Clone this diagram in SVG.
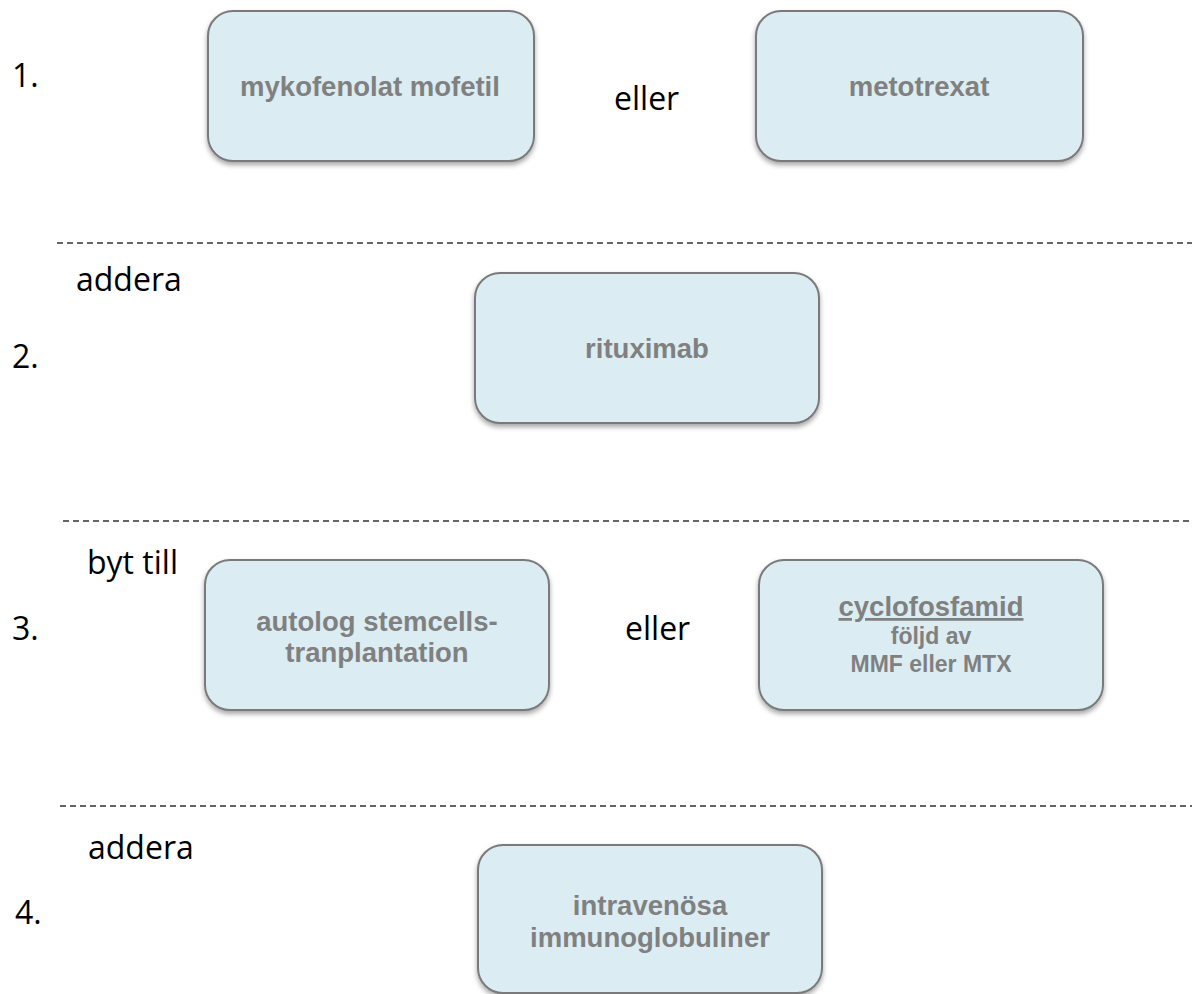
<svg xmlns="http://www.w3.org/2000/svg" width="1192" height="994" viewBox="0 0 1192 994">
<style>
.box{fill:#dbedf3;stroke:#7a7a7a;stroke-width:2;filter:url(#sh)}
.nt{font-family:"Liberation Sans",Arial,sans-serif;font-weight:bold;fill:#808080;text-anchor:middle;font-size:27.5px}
.nt.sm{font-size:23px}
.lb{font-family:"Open Sans","Liberation Sans",sans-serif;fill:#000;font-size:32px}
.dl{stroke:#333;stroke-width:1.3;stroke-dasharray:6 4;fill:none}
</style>
<defs>
<filter id="sh" x="-10%" y="-10%" width="120%" height="130%">
<feDropShadow dx="0" dy="3" stdDeviation="2.5" flood-color="#000" flood-opacity="0.35"/>
</filter>
</defs>
<rect width="1192" height="994" fill="#fff"/>
<g id="connectors">
<line class="dl" x1="57" y1="243" x2="1192" y2="243"/>
<line class="dl" x1="63" y1="521" x2="1192" y2="521"/>
<line class="dl" x1="60" y1="806" x2="1192" y2="806"/>
</g>
<g id="labels">
<text class="lb" x="12" y="87">1.</text>
<text class="lb" x="614" y="110">eller</text>
<text class="lb" x="76" y="291">addera</text>
<text class="lb" x="12" y="368">2.</text>
<text class="lb" x="87" y="574">byt till</text>
<text class="lb" x="12" y="640">3.</text>
<text class="lb" x="625" y="640">eller</text>
<text class="lb" x="88" y="859">addera</text>
<text class="lb" x="15" y="924">4.</text>
</g>
<g id="n1"><rect class="box" x="208" y="11" width="326" height="150" rx="25"/><text class="nt" x="370" y="96">mykofenolat mofetil</text></g>
<g id="n2"><rect class="box" x="756" y="11" width="327" height="150" rx="25"/><text class="nt" x="919" y="96">metotrexat</text></g>
<g id="n3"><rect class="box" x="475" y="273" width="344" height="150" rx="25"/><text class="nt" x="647" y="358">rituximab</text></g>
<g id="n4"><rect class="box" x="205" y="560" width="344" height="150" rx="25"/><text class="nt" x="377" y="631">autolog stemcells-</text><text class="nt" x="377" y="662">tranplantation</text></g>
<g id="n5"><rect class="box" x="759" y="560" width="344" height="150" rx="25"/><text class="nt" x="931" y="616" text-decoration="underline">cyclofosfamid</text><text class="nt sm" x="931" y="644">följd av</text><text class="nt sm" x="931" y="672">MMF eller MTX</text></g>
<g id="n6"><rect class="box" x="478" y="845" width="344" height="148" rx="25"/><text class="nt" x="650" y="915">intravenösa</text><text class="nt" x="650" y="947">immunoglobuliner</text></g>
</svg>
